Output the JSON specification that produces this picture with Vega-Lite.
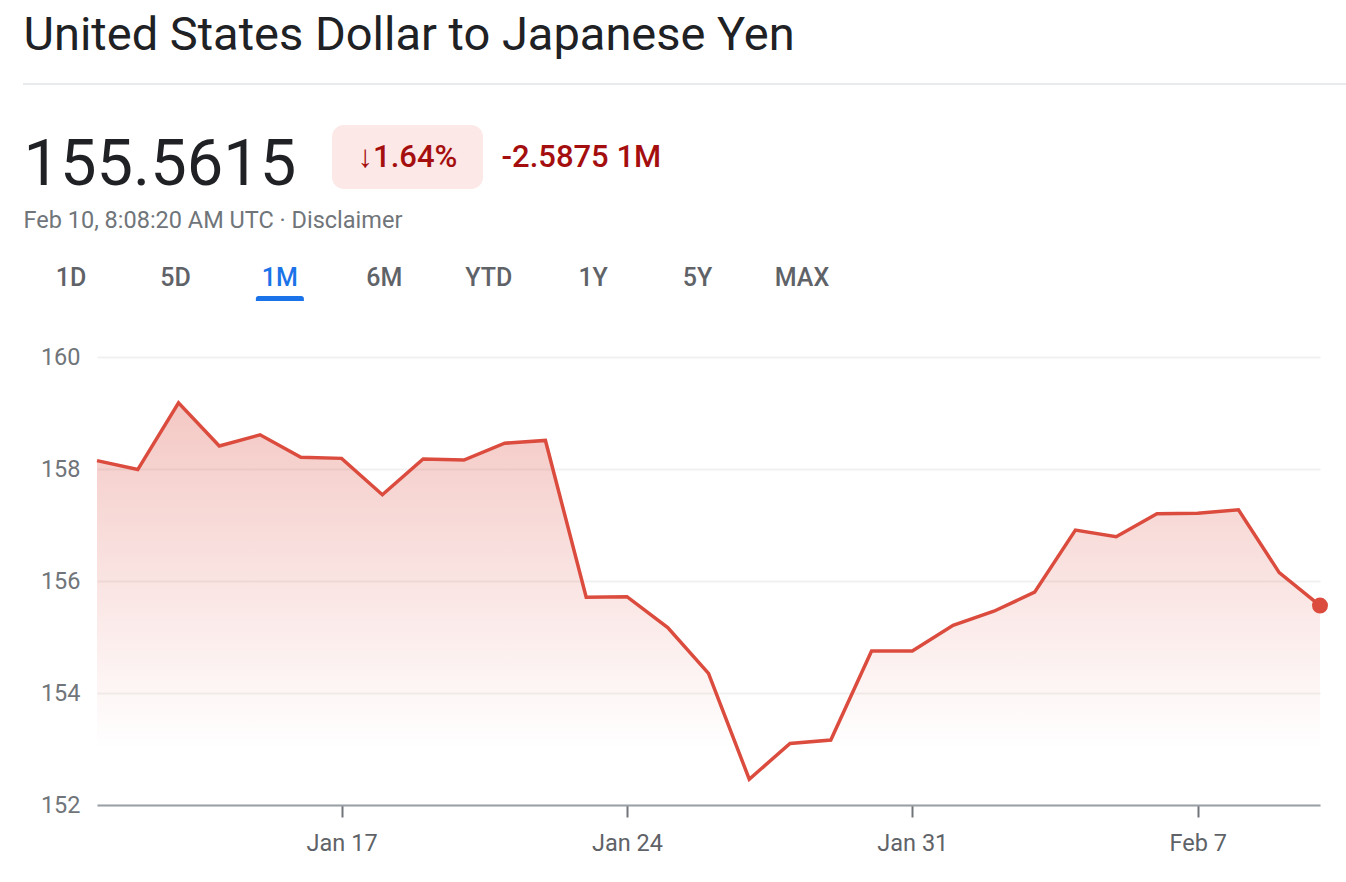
{
  "$schema": "https://vega.github.io/schema/vega-lite/v6.json",
  "background": "white",
  "padding": {"left": 23, "top": 0, "right": 0, "bottom": 0},
  "spacing": 0,
  "config": {
    "view": {"stroke": null},
    "font": "Roboto",
    "text": {"font": "Roboto"}
  },
  "vconcat": [
    {
      "width": 1,
      "height": 83,
      "data": {"values": [{"label": "United States Dollar to Japanese Yen"}]},
      "mark": {"type": "text", "align": "left", "baseline": "middle", "fontSize": 47, "font": "Roboto", "color": "#202124", "dy": -5.5},
      "encoding": {"text": {"field": "label"}}
    },
    {
      "width": 1323,
      "height": 2,
      "view": {"fill": "#e8eaed", "stroke": null},
      "data": {"values": [{"label": ""}]},
      "mark": {"type": "text", "fontSize": 1},
      "encoding": {"text": {"field": "label"}}
    },
    {
      "width": 1,
      "height": 40,
      "data": {"values": [{"label": ""}]},
      "mark": {"type": "text", "fontSize": 1},
      "encoding": {"text": {"field": "label"}}
    },
    {
      "spacing": 35,
      "hconcat": [
        {
          "width": 1,
          "height": 64,
          "data": {"values": [{"label": "155.5615"}]},
          "mark": {"type": "text", "align": "left", "baseline": "middle", "fontSize": 65, "font": "Roboto", "color": "#202124", "dy": 8},
          "encoding": {"text": {"field": "label"}}
        },
        {
          "spacing": 18,
          "hconcat": [
            {
              "width": 151,
              "height": 64,
              "view": {"fill": "#fce8e6", "stroke": null, "cornerRadius": 12},
              "data": {"values": [{"label": "↓1.64%"}]},
              "mark": {"type": "text", "align": "center", "baseline": "middle", "fontSize": 31, "fontWeight": 500, "font": "Roboto", "color": "#a50e0e", "dy": 1},
              "encoding": {"text": {"field": "label"}}
            },
            {
              "width": 1,
              "height": 64,
              "data": {"values": [{"label": "-2.5875 1M"}]},
              "mark": {"type": "text", "align": "left", "baseline": "middle", "fontSize": 31, "fontWeight": 500, "font": "Roboto", "color": "#a50e0e", "dy": 1},
              "encoding": {"text": {"field": "label"}}
            }
          ]
        }
      ]
    },
    {
      "width": 1,
      "height": 45,
      "data": {"values": [{"label": "Feb 10, 8:08:20 AM UTC · Disclaimer"}]},
      "mark": {"type": "text", "align": "left", "baseline": "middle", "fontSize": 23.5, "font": "Roboto", "color": "#70757a"},
      "encoding": {"text": {"field": "label"}}
    },
    {
      "width": 827,
      "height": 102,
      "data": {"values": [
        {"tab": "1D", "state": "off"},
        {"tab": "5D", "state": "off"},
        {"tab": "1M", "state": "on"},
        {"tab": "6M", "state": "off"},
        {"tab": "YTD", "state": "off"},
        {"tab": "1Y", "state": "off"},
        {"tab": "5Y", "state": "off"},
        {"tab": "MAX", "state": "off"}
      ]},
      "encoding": {
        "x": {"field": "tab", "type": "nominal", "sort": null, "scale": {"type": "point", "padding": 0.46}, "axis": null}
      },
      "layer": [
        {
          "mark": {"type": "text", "align": "center", "baseline": "middle", "fontSize": 25, "fontWeight": 500, "font": "Roboto", "dy": -16},
          "encoding": {
            "text": {"field": "tab"},
            "color": {"field": "state", "type": "nominal", "scale": {"domain": ["off", "on"], "range": ["#5f6368", "#1a73e8"]}, "legend": null}
          }
        },
        {
          "transform": [{"filter": "datum.state === 'on'"}],
          "mark": {"type": "tick", "orient": "horizontal", "size": 48, "thickness": 5, "color": "#1a73e8", "opacity": 1, "yOffset": 4.5, "cornerRadiusTopLeft": 3, "cornerRadiusTopRight": 3}
        }
      ]
    },
    {
      "spacing": 0,
      "hconcat": [
        {
          "width": 17,
          "height": 1,
          "data": {"values": [{"label": ""}]},
          "mark": {"type": "text", "fontSize": 1},
          "encoding": {"text": {"field": "label"}}
        },
        {
          "width": 1223,
          "height": 448,
          "data": {"values": [
            {"date": "2025-01-11", "rate": 158.15},
            {"date": "2025-01-12", "rate": 157.99},
            {"date": "2025-01-13", "rate": 159.18},
            {"date": "2025-01-14", "rate": 158.41},
            {"date": "2025-01-15", "rate": 158.61},
            {"date": "2025-01-16", "rate": 158.21},
            {"date": "2025-01-17", "rate": 158.19},
            {"date": "2025-01-18", "rate": 157.54},
            {"date": "2025-01-19", "rate": 158.18},
            {"date": "2025-01-20", "rate": 158.16},
            {"date": "2025-01-21", "rate": 158.46},
            {"date": "2025-01-22", "rate": 158.51},
            {"date": "2025-01-23", "rate": 155.71},
            {"date": "2025-01-24", "rate": 155.72},
            {"date": "2025-01-25", "rate": 155.17},
            {"date": "2025-01-26", "rate": 154.35},
            {"date": "2025-01-27", "rate": 152.46},
            {"date": "2025-01-28", "rate": 153.10},
            {"date": "2025-01-29", "rate": 153.16},
            {"date": "2025-01-30", "rate": 154.75},
            {"date": "2025-01-31", "rate": 154.75},
            {"date": "2025-02-01", "rate": 155.21},
            {"date": "2025-02-02", "rate": 155.46},
            {"date": "2025-02-03", "rate": 155.80},
            {"date": "2025-02-04", "rate": 156.91},
            {"date": "2025-02-05", "rate": 156.79},
            {"date": "2025-02-06", "rate": 157.20},
            {"date": "2025-02-07", "rate": 157.21},
            {"date": "2025-02-08", "rate": 157.27},
            {"date": "2025-02-09", "rate": 156.15},
            {"date": "2025-02-10", "rate": 155.5615}
          ]},
          "encoding": {
            "x": {
              "field": "date",
              "type": "temporal",
              "scale": {"type": "utc", "nice": false},
              "axis": {
                "title": null,
                "grid": false,
                "values": [
                  {"year": 2025, "month": 1, "date": 17, "utc": true},
                  {"year": 2025, "month": 1, "date": 24, "utc": true},
                  {"year": 2025, "month": 1, "date": 31, "utc": true},
                  {"year": 2025, "month": 2, "date": 7, "utc": true}
                ],
                "format": "%b %-d",
                "labelFont": "Roboto",
                "labelFontSize": 23.5,
                "labelColor": "#5f6368",
                "labelPadding": 14,
                "tickSize": 12,
                "tickWidth": 2,
                "tickColor": "#70757a",
                "domainColor": "#9aa0a6",
                "domainWidth": 2
              }
            },
            "y": {
              "field": "rate",
              "type": "quantitative",
              "scale": {"domain": [152, 160], "zero": false, "nice": false},
              "axis": {
                "title": null,
                "values": [152, 154, 156, 158, 160],
                "domain": false,
                "ticks": false,
                "labelFont": "Roboto",
                "labelFontSize": 23.5,
                "labelColor": "#70757a",
                "labelPadding": 17,
                "gridColor": "#f1f1f1",
                "gridWidth": 2
              }
            }
          },
          "layer": [
            {
              "mark": {
                "type": "area",
                "color": {
                  "gradient": "linear",
                  "x1": 0, "y1": 0, "x2": 0, "y2": 1,
                  "stops": [
                    {"offset": 0, "color": "rgba(217,72,59,0.3)"},
                    {"offset": 0.86, "color": "rgba(217,72,59,0)"}
                  ]
                }
              },
              "encoding": {"y2": {"datum": 152}}
            },
            {
              "mark": {"type": "line", "color": "#db4c3e", "strokeWidth": 3.5}
            },
            {
              "transform": [{"filter": "datum.rate === 155.5615"}],
              "mark": {"type": "point", "filled": true, "size": 254, "color": "#db4c3e", "opacity": 1}
            }
          ]
        }
      ]
    }
  ]
}
